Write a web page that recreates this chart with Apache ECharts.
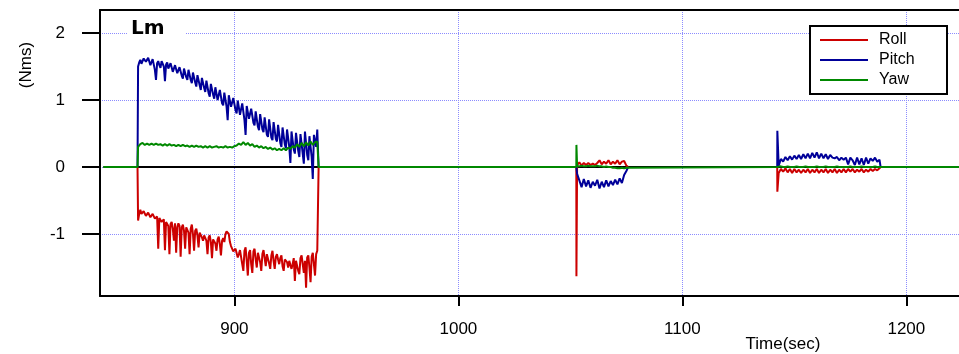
<!DOCTYPE html>
<html><head><meta charset="utf-8">
<script src="https://cdn.jsdelivr.net/npm/echarts@6/dist/echarts.min.js"></script>
<style>html,body{margin:0;padding:0;background:#fff}#c{width:959px;height:354px}</style>
</head><body><div id="c"></div>
<script>
// ---- data ----
const seriesNames = ['Roll', 'Pitch', 'Yaw'];
const xTicks = [900, 1000, 1100, 1200];
const yTicks = [-1, 0, 1, 2];
const onsetTimes = [856.8, 1052.7, 1142.4];
const endTimes = [937.6, 1075.8, 1188.5];
const segStarts = [857, 1053, 1143];
const rollSteps = [0.5, 1, 1];   // seconds between samples, per segment
const pitchSteps = [0.5, 1, 1];
const yawSteps = [1, 1, 1];

const roll1 = [-0.80,-0.70,-0.64,-0.70,-0.72,-0.66,-0.66,-0.73,-0.74,-0.68,-0.68,-0.75,-0.76,-0.70,-0.70,-0.77,-0.78,-0.74,-1.22,-0.76,
  -0.74,-0.82,-0.84,-0.78,-1.24,-0.82,-0.80,-0.88,-1.30,-0.85,-0.82,-0.92,-1.10,-0.84,-1.28,-0.90,-0.84,-0.88,-1.34,-0.90,
  -0.86,-0.95,-1.22,-0.90,-0.88,-0.98,-1.30,-0.92,-0.86,-1.00,-1.25,-0.95,-0.92,-1.02,-1.20,-0.98,-0.96,-1.05,-1.10,-1.02,
  -1.00,-1.10,-1.30,-1.05,-1.02,-1.12,-1.36,-1.08,-1.06,-1.14,-1.25,-1.08,-1.04,-1.15,-1.32,-1.10,-1.06,-1.12,-1.00,-0.96,
  -0.94,-1.00,-1.12,-1.18,-1.20,-1.26,-1.24,-1.22,-1.20,-1.35,-1.30,-1.24,-1.22,-1.45,-1.55,-1.25,-1.20,-1.40,-1.62,-1.28,
  -1.24,-1.45,-1.58,-1.26,-1.22,-1.38,-1.50,-1.28,-1.26,-1.42,-1.55,-1.30,-1.24,-1.36,-1.48,-1.30,-1.28,-1.44,-1.52,-1.32,
  -1.25,-1.40,-1.52,-1.34,-1.30,-1.38,-1.45,-1.36,-1.32,-1.48,-1.55,-1.38,-1.36,-1.42,-1.50,-1.40,-1.38,-1.52,-1.45,-1.36,
  -1.70,-1.40,-1.38,-1.55,-1.60,-1.36,-1.32,-1.45,-1.58,-1.40,-1.80,-1.35,-1.32,-1.50,-1.72,-1.34,-1.28,-1.45,-1.62,-1.30,
  -1.25];
const pitch1 = [1.50,1.56,1.60,1.54,1.52,1.62,1.64,1.57,1.55,1.63,1.62,1.52,1.50,1.61,1.60,1.45,1.30,1.55,1.58,1.52,
  1.48,1.58,1.60,1.50,1.28,1.53,1.56,1.47,1.46,1.55,1.55,1.42,1.40,1.52,1.52,1.40,1.38,1.49,1.50,1.36,
  1.32,1.47,1.46,1.34,1.30,1.45,1.44,1.30,1.25,1.41,1.40,1.26,1.20,1.37,1.36,1.22,1.15,1.33,1.32,1.18,
  1.12,1.29,1.28,1.10,1.05,1.24,1.22,1.08,1.02,1.19,1.18,1.00,0.98,1.15,1.14,0.95,0.92,1.11,1.10,0.90,
  0.70,1.07,1.06,0.90,0.88,1.03,1.02,0.85,0.80,0.99,0.98,0.78,0.76,0.95,0.94,0.70,0.48,0.91,0.90,0.72,
  0.70,0.87,0.86,0.66,0.62,0.83,0.82,0.60,0.55,0.79,0.78,0.56,0.52,0.74,0.72,0.48,0.45,0.71,0.70,0.44,
  0.40,0.67,0.66,0.42,0.38,0.63,0.62,0.36,0.30,0.59,0.58,0.34,0.28,0.56,0.55,0.30,0.06,0.53,0.52,0.26,
  0.20,0.51,0.50,0.24,0.15,0.49,0.48,0.20,0.05,0.53,0.52,0.18,0.10,0.46,0.45,0.15,-0.18,0.48,0.50,0.30,
  0.56];
const yaw1 = [0.30,0.34,0.36,0.33,0.35,0.33,0.35,0.33,0.35,0.33,
  0.34,0.32,0.34,0.32,0.34,0.32,0.33,0.31,0.33,0.31,
  0.33,0.31,0.32,0.30,0.32,0.30,0.32,0.30,0.31,0.29,
  0.31,0.29,0.31,0.29,0.30,0.31,0.29,0.30,0.29,0.31,
  0.29,0.30,0.29,0.31,0.32,0.35,0.33,0.37,0.33,0.36,
  0.32,0.34,0.30,0.32,0.29,0.31,0.28,0.30,0.27,0.29,
  0.26,0.28,0.25,0.27,0.25,0.28,0.25,0.29,0.27,0.31,
  0.29,0.34,0.30,0.36,0.31,0.37,0.32,0.38,0.33,0.37,
  0.38];

const roll2 = [0.03,0.07,0.02,0.06,0.03,0.06,0.03,0.05,0.03,0.06,0.10,0.04,0.08,0.05,0.10,0.04,0.08,0.05,0.10,0.04,0.08,0.09,0.02];
const pitch2 = [-0.10,-0.20,-0.30,-0.18,-0.29,-0.20,-0.31,-0.22,-0.28,-0.19,-0.32,-0.22,-0.30,-0.20,-0.29,-0.21,-0.27,-0.19,-0.26,-0.17,-0.24,-0.12,-0.06];
const yaw2 = [0.01,0.01,0.02,0.01,0.01,0.02,0.01,0.01,0.01,0.02,0.01,0.01,0.00,0.01,0.00,0.00,-0.01,-0.01,-0.02,-0.02,-0.01,-0.02,-0.01];

const roll3 = [-0.09,-0.03,-0.07,-0.02,-0.08,-0.03,-0.09,-0.03,-0.08,-0.04,
  -0.09,-0.04,-0.08,-0.03,-0.09,-0.04,-0.08,-0.03,-0.09,-0.04,
  -0.08,-0.03,-0.09,-0.04,-0.08,-0.03,-0.09,-0.04,-0.08,-0.03,
  -0.08,-0.03,-0.07,-0.03,-0.08,-0.04,-0.07,-0.03,-0.08,-0.04,
  -0.07,-0.03,-0.06,-0.03,-0.05,-0.02];
const pitch3 = [0.02,0.12,0.08,0.15,0.10,0.16,0.11,0.17,0.12,0.18,
  0.12,0.19,0.13,0.20,0.13,0.21,0.14,0.22,0.13,0.20,
  0.13,0.19,0.12,0.18,0.14,0.13,0.15,0.10,0.14,0.11,
  0.14,0.04,0.14,0.10,0.03,0.14,0.04,0.13,0.03,0.14,
  0.05,0.13,0.09,0.14,0.08,0.11];
const yaw3 = [0.00,0.01,0.00,0.00,0.01,0.00,0.00,0.00,0.01,0.00,
  0.00,0.00,0.01,0.00,0.00,0.00,0.00,0.01,0.00,0.00,
  0.00,0.01,0.00,0.00,0.00,0.00,0.01,0.00,0.00,0.00,
  0.00,0.00,0.01,0.00,0.00,0.00,0.00,0.01,0.00,0.00,
  0.00,0.00,0.00,0.01,0.00,0.00];

const rollSpikes = [null, -1.63, -0.37];
const pitchSpikes = [null, null, 0.54];
const yawSpikes = [null, 0.33, null];

const xStart = 841.5, xEnd = 1240;

// ---- build ----
// Roll and Pitch sit under the Yaw trace while at zero, so they are broken (null) between segments.
function buildSeries(segs, steps, spikes, continuous) {
  const pts = continuous ? [[xStart, 0]] : [];
  for (let k = 0; k < segs.length; k++) {
    if (!continuous && k > 0) pts.push([onsetTimes[k] - 0.1, null]);
    pts.push([onsetTimes[k] - 0.05, 0]);
    if (spikes[k] !== null) pts.push([onsetTimes[k], spikes[k]]);
    segs[k].forEach((v, i) => pts.push([segStarts[k] + i * steps[k], v]));
    pts.push([endTimes[k], 0]);
  }
  if (continuous) pts.push([xEnd, 0]);
  return pts;
}
const colors = ['#cc0000', '#000099', '#008800'];
const dataSets = [
  buildSeries([roll1, roll2, roll3], rollSteps, rollSpikes, false),
  buildSeries([pitch1, pitch2, pitch3], pitchSteps, pitchSpikes, false),
  buildSeries([yaw1, yaw2, yaw3], yawSteps, yawSpikes, true)
];
const FONT = '"Liberation Sans", Arial, sans-serif';
const chart = echarts.init(document.getElementById('c'));
const gridCol = '#8c8cff';
const series = [{
  type: 'line', name: 'zero', data: [[xStart, 0], [xEnd, 0]], showSymbol: false,
  lineStyle: { color: '#000', width: 2 }, silent: true, z: 1
}];
seriesNames.forEach((n, i) => series.push({
  type: 'line', name: n, data: dataSets[i], showSymbol: false, connectNulls: false,
  lineStyle: { color: colors[i], width: 2 }, itemStyle: { color: colors[i] }, z: 2 + i
}));
chart.setOption({
  animation: false,
  backgroundColor: '#fff',
  grid: { left: 100, right: 0, top: 10, bottom: 58 },
  xAxis: [{
    type: 'value', min: 840, max: 1223.5, position: 'bottom',
    axisLine: { show: true, onZero: false, lineStyle: { color: '#000', width: 2 } },
    axisTick: { show: true, customValues: xTicks, length: 10, lineStyle: { color: '#000', width: 2 } },
    axisLabel: { customValues: xTicks, formatter: v => String(v), fontSize: 17, color: '#000', fontFamily: FONT, margin: 25 },
    splitLine: { show: true, lineStyle: { color: gridCol, type: 'dotted', width: 1 } }
  }, {
    type: 'value', min: 840, max: 1223.5, position: 'top',
    axisLine: { show: true, onZero: false, lineStyle: { color: '#000', width: 2 } },
    axisTick: { show: false }, axisLabel: { show: false }, splitLine: { show: false }
  }],
  yAxis: {
    type: 'value', min: -1.925, max: 2.343,
    axisLine: { show: true, onZero: false, lineStyle: { color: '#000', width: 2 } },
    axisTick: { show: true, customValues: yTicks, length: 18, lineStyle: { color: '#000', width: 2 } },
    axisLabel: { customValues: yTicks, formatter: v => String(v), fontSize: 17, color: '#000', fontFamily: FONT, margin: 35 },
    splitLine: { show: true, lineStyle: { color: gridCol, type: 'dotted', width: 1 } }
  },
  legend: {
    data: seriesNames, orient: 'vertical', left: 820, top: 30, padding: 0,
    icon: 'rect', itemWidth: 48, itemHeight: 2, itemGap: 0, z: 20,
    textStyle: { fontSize: 16, lineHeight: 20, color: '#000', fontFamily: FONT, padding: [0, 0, 0, 6] }
  },
  graphic: [
    { type: 'rect', z: 10, shape: { x: 810, y: 26, width: 137, height: 68 },
      style: { fill: '#fff', stroke: '#000', lineWidth: 2 } },
    { type: 'rect', z: 10, shape: { x: 128, y: 24, width: 57, height: 18 }, style: { fill: '#fff' } },
    { type: 'text', z: 11, x: 131, y: 19, style: { text: 'Lm', font: 'bold 20px "DejaVu Sans", sans-serif', fill: '#000' } },
    { type: 'text', z: 11, x: 783, y: 344, style: { text: 'Time(sec)', font: '17px ' + FONT, fill: '#000', align: 'center', verticalAlign: 'middle' } },
    { type: 'text', z: 11, x: 26, y: 65, rotation: Math.PI / 2, style: { text: '(Nms)', font: '17px ' + FONT, fill: '#000', align: 'center', verticalAlign: 'middle' } }
  ],
  series: series
});
</script></body></html>
